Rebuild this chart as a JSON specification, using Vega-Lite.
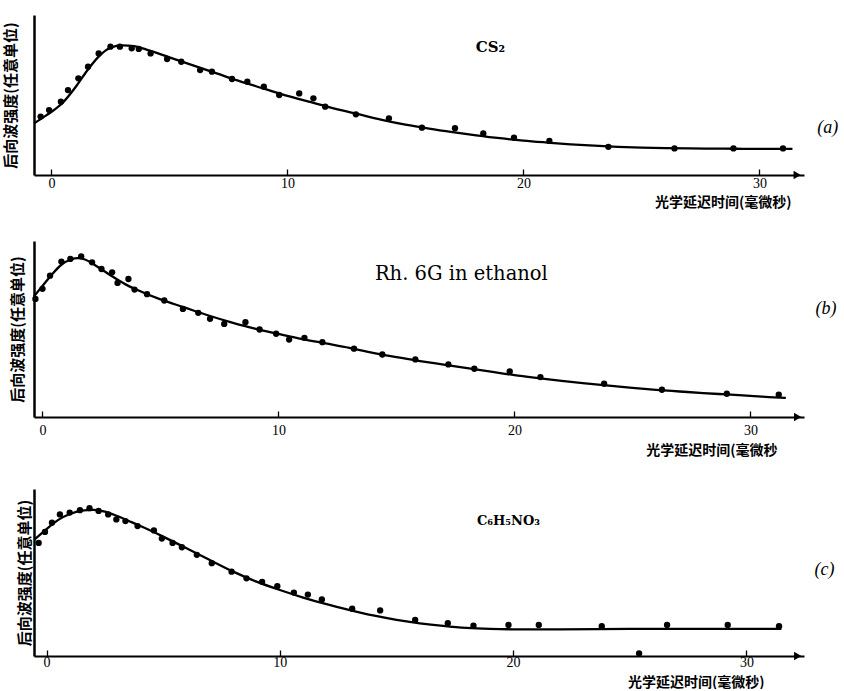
{
  "$schema": "https://vega.github.io/schema/vega-lite/v6.json",
  "background": "white",
  "padding": {"left": 3, "top": 15, "right": 2, "bottom": 0},
  "spacing": 32,
  "config": {
    "view": {"stroke": null},
    "axis": {"grid": false, "domainColor": "black", "tickColor": "black", "labelColor": "black", "titleColor": "black"}
  },
  "datasets": {
    "a_curve": [
      {"t": -0.72, "v": 32.5}, {"t": -0.3, "v": 36.5}, {"t": 0, "v": 39.5}, {"t": 0.5, "v": 45.5}, {"t": 1.0, "v": 54.5},
      {"t": 1.5, "v": 65}, {"t": 2.0, "v": 74}, {"t": 2.5, "v": 79.5}, {"t": 3.0, "v": 81}, {"t": 3.5, "v": 80.5},
      {"t": 4.0, "v": 78.5}, {"t": 5, "v": 73.5}, {"t": 6, "v": 68.5}, {"t": 7, "v": 63.5}, {"t": 8, "v": 58.5},
      {"t": 9, "v": 54}, {"t": 10, "v": 49.5}, {"t": 11, "v": 45.5}, {"t": 12, "v": 41.5}, {"t": 13, "v": 38},
      {"t": 14, "v": 34.5}, {"t": 15, "v": 31.5}, {"t": 16, "v": 29}, {"t": 17, "v": 26.8}, {"t": 18, "v": 24.8},
      {"t": 19, "v": 23}, {"t": 20, "v": 21.5}, {"t": 21, "v": 20.3}, {"t": 22, "v": 19.2}, {"t": 23, "v": 18.3},
      {"t": 24, "v": 17.6}, {"t": 25, "v": 17.1}, {"t": 26, "v": 16.8}, {"t": 27, "v": 16.6}, {"t": 28, "v": 16.5},
      {"t": 29, "v": 16.4}, {"t": 30, "v": 16.3}, {"t": 31.4, "v": 16.3}
    ],
    "a_dots": [
      {"t": -0.46, "v": 36.5}, {"t": -0.1, "v": 40.6}, {"t": 0.4, "v": 45.8}, {"t": 0.7, "v": 53.1}, {"t": 1.14, "v": 60.4},
      {"t": 1.55, "v": 67.7}, {"t": 2.0, "v": 76.0}, {"t": 2.5, "v": 80.2}, {"t": 2.9, "v": 80.2}, {"t": 3.4, "v": 79.2},
      {"t": 3.7, "v": 78.8}, {"t": 4.2, "v": 76.0}, {"t": 4.9, "v": 72.5}, {"t": 5.5, "v": 70.8}, {"t": 6.3, "v": 65.6},
      {"t": 6.8, "v": 64.6}, {"t": 7.65, "v": 60.0}, {"t": 8.3, "v": 58.3}, {"t": 9.0, "v": 55.2}, {"t": 9.65, "v": 50.0},
      {"t": 10.5, "v": 51.0}, {"t": 11.1, "v": 47.9}, {"t": 11.6, "v": 42.7}, {"t": 12.9, "v": 37.9}, {"t": 14.3, "v": 35.4},
      {"t": 15.7, "v": 29.6}, {"t": 17.1, "v": 29.2}, {"t": 18.3, "v": 26.0}, {"t": 19.6, "v": 23.3}, {"t": 21.1, "v": 21.3},
      {"t": 23.6, "v": 17.6}, {"t": 26.4, "v": 16.6}, {"t": 28.9, "v": 16.6}, {"t": 31.0, "v": 16.6}
    ],
    "b_curve": [
      {"t": -0.36, "v": 68.6}, {"t": 0, "v": 74.5}, {"t": 0.4, "v": 81}, {"t": 0.8, "v": 86.5}, {"t": 1.2, "v": 89.5},
      {"t": 1.5, "v": 90.3}, {"t": 1.8, "v": 89.5}, {"t": 2.2, "v": 86.5}, {"t": 2.6, "v": 83}, {"t": 3.0, "v": 79.5},
      {"t": 3.5, "v": 75.5}, {"t": 4, "v": 72.3}, {"t": 5, "v": 66.8}, {"t": 6, "v": 62.3}, {"t": 7, "v": 57.8},
      {"t": 8, "v": 53.8}, {"t": 9, "v": 50.2}, {"t": 10, "v": 47.2}, {"t": 11, "v": 44.3}, {"t": 12, "v": 41.8},
      {"t": 13, "v": 39.3}, {"t": 14, "v": 36.5}, {"t": 15, "v": 34}, {"t": 16, "v": 31.8}, {"t": 17, "v": 29.8},
      {"t": 18, "v": 27.8}, {"t": 19, "v": 25.8}, {"t": 20, "v": 23.8}, {"t": 21, "v": 22.1}, {"t": 22, "v": 20.5},
      {"t": 23, "v": 19.1}, {"t": 24, "v": 17.8}, {"t": 25, "v": 16.5}, {"t": 26, "v": 15.4}, {"t": 27, "v": 14.5},
      {"t": 28, "v": 13.6}, {"t": 29, "v": 12.8}, {"t": 30, "v": 12}, {"t": 31, "v": 11.2}, {"t": 31.5, "v": 10.9}
    ],
    "b_dots": [
      {"t": -0.3, "v": 67.1}, {"t": 0, "v": 72.8}, {"t": 0.32, "v": 80.3}, {"t": 0.8, "v": 88.3}, {"t": 1.18, "v": 89.8},
      {"t": 1.64, "v": 91.3}, {"t": 2.1, "v": 87.9}, {"t": 2.5, "v": 84.1}, {"t": 2.95, "v": 82.2}, {"t": 3.18, "v": 76.2},
      {"t": 3.64, "v": 78.4}, {"t": 3.9, "v": 72.4}, {"t": 4.43, "v": 69.8}, {"t": 5.16, "v": 66.2}, {"t": 5.95, "v": 61.4},
      {"t": 6.6, "v": 59.2}, {"t": 7.1, "v": 55.8}, {"t": 7.7, "v": 52.9}, {"t": 8.6, "v": 53.9}, {"t": 9.2, "v": 49.7},
      {"t": 9.9, "v": 47.3}, {"t": 10.45, "v": 44.0}, {"t": 11.1, "v": 45.0}, {"t": 11.86, "v": 42.5}, {"t": 13.2, "v": 38.8},
      {"t": 14.4, "v": 35.5}, {"t": 15.8, "v": 32.7}, {"t": 17.2, "v": 29.9}, {"t": 18.3, "v": 27.4}, {"t": 19.8, "v": 25.9},
      {"t": 21.1, "v": 22.7}, {"t": 23.8, "v": 18.9}, {"t": 26.25, "v": 15.5}, {"t": 29.0, "v": 13.2}, {"t": 31.2, "v": 12.7}
    ],
    "c_curve": [
      {"t": -0.5, "v": 70}, {"t": 0, "v": 76}, {"t": 0.5, "v": 81.5}, {"t": 1.0, "v": 85}, {"t": 1.5, "v": 87},
      {"t": 2.0, "v": 87.5}, {"t": 2.5, "v": 86.5}, {"t": 3.0, "v": 84}, {"t": 3.5, "v": 81}, {"t": 4, "v": 78},
      {"t": 5, "v": 71.5}, {"t": 6, "v": 64.5}, {"t": 7, "v": 57.5}, {"t": 8, "v": 50.5}, {"t": 9, "v": 44.5},
      {"t": 10, "v": 39.5}, {"t": 11, "v": 35}, {"t": 12, "v": 31}, {"t": 13, "v": 27.5}, {"t": 14, "v": 24.3},
      {"t": 15, "v": 21.7}, {"t": 16, "v": 19.6}, {"t": 17, "v": 18}, {"t": 18, "v": 16.8}, {"t": 19, "v": 16.2},
      {"t": 20, "v": 16}, {"t": 22, "v": 16}, {"t": 25, "v": 16.2}, {"t": 28, "v": 16.3}, {"t": 31.5, "v": 16.3}
    ],
    "c_dots": [
      {"t": -0.34, "v": 67.7}, {"t": -0.07, "v": 74.3}, {"t": 0.23, "v": 79.8}, {"t": 0.57, "v": 84.8}, {"t": 0.99, "v": 85.9},
      {"t": 1.43, "v": 87.3}, {"t": 1.84, "v": 88.5}, {"t": 2.23, "v": 86.9}, {"t": 2.64, "v": 84.8}, {"t": 2.99, "v": 81.8},
      {"t": 3.38, "v": 80.8}, {"t": 3.9, "v": 77.8}, {"t": 4.6, "v": 75.2}, {"t": 4.94, "v": 70.3}, {"t": 5.4, "v": 67.7},
      {"t": 5.8, "v": 65.1}, {"t": 6.44, "v": 60.6}, {"t": 7.08, "v": 55.6}, {"t": 7.93, "v": 50.5}, {"t": 8.57, "v": 46.5},
      {"t": 9.24, "v": 44.4}, {"t": 9.89, "v": 41.8}, {"t": 10.6, "v": 38.0}, {"t": 11.2, "v": 36.8}, {"t": 11.8, "v": 33.9},
      {"t": 13.1, "v": 28.3}, {"t": 14.3, "v": 27.3}, {"t": 15.8, "v": 21.6}, {"t": 17.2, "v": 19.6}, {"t": 18.3, "v": 18.2},
      {"t": 19.8, "v": 18.6}, {"t": 21.1, "v": 18.6}, {"t": 23.8, "v": 17.8}, {"t": 26.6, "v": 18.6}, {"t": 29.2, "v": 18.6},
      {"t": 31.4, "v": 17.8}, {"t": 25.4, "v": 1.5}
    ]
  },
  "vconcat": [
    {
      "width": 770,
      "height": 160,
      "layer": [
        {"data": {"name": "a_curve"}, "mark": {"type": "line", "interpolate": "monotone", "color": "black", "strokeWidth": 2.3},
          "encoding": {
            "x": {"field": "t", "type": "quantitative", "title": "光学延迟时间(毫微秒)", "scale": {"domain": [-0.74, 31.89], "nice": false, "zero": false},
              "axis": {"values": [0, 10, 20, 30], "domainWidth": 2, "tickSize": -6, "tickWidth": 1.3,
                "labelFont": "Liberation Serif", "labelFontSize": 14, "labelPadding": 7, "labelFlush": false,
                "titleFont": "Noto Sans CJK SC", "titleFontSize": 14, "titleFontWeight": "bold",
                "titleX": 757, "titleY": 27, "titleAlign": "right", "titleBaseline": "middle", "titleAnchor": null}},
            "y": {"field": "v", "type": "quantitative", "title": "后向波强度(任意单位)", "scale": {"domain": [0, 100], "nice": false, "zero": false},
              "axis": {"labels": false, "ticks": false, "domainWidth": 2.5,
                "titleFont": "Noto Sans CJK SC", "titleFontSize": 15, "titleFontWeight": "bold", "titlePadding": 16}}
          }},
        {"data": {"name": "a_dots"}, "mark": {"type": "point", "filled": true, "color": "black", "size": 40, "opacity": 1},
          "encoding": {
            "x": {"field": "t", "type": "quantitative", "title": "光学延迟时间(毫微秒)"},
            "y": {"field": "v", "type": "quantitative", "title": "后向波强度(任意单位)"}
          }},
        {"data": {"values": [{}]}, "mark": {"type": "point", "shape": "triangle-right", "filled": true, "color": "black", "size": 70, "opacity": 1},
          "encoding": {"x": {"datum": 31.6}, "y": {"datum": 0}}},
        {"data": {"values": [{}]}, "mark": {"type": "text", "text": "CS₂", "font": "DejaVu Serif", "fontSize": 15, "fontWeight": "bold", "color": "black"},
          "encoding": {"x": {"datum": 18.6}, "y": {"datum": 80}}},
        {"data": {"values": [{}]}, "mark": {"type": "text", "text": "(a)", "font": "Liberation Serif", "fontStyle": "italic", "fontSize": 18, "color": "black"},
          "encoding": {"x": {"datum": 32.9}, "y": {"datum": 29.4}}}
      ]
    },
    {
      "width": 770,
      "height": 176,
      "layer": [
        {"data": {"name": "b_curve"}, "mark": {"type": "line", "interpolate": "monotone", "color": "black", "strokeWidth": 2.3},
          "encoding": {
            "x": {"field": "t", "type": "quantitative", "title": "光学延迟时间(毫微秒", "scale": {"domain": [-0.36, 32.27], "nice": false, "zero": false},
              "axis": {"values": [0, 10, 20, 30], "domainWidth": 2, "tickSize": -6, "tickWidth": 1.3,
                "labelFont": "Liberation Serif", "labelFontSize": 14, "labelPadding": 12, "labelFlush": false,
                "titleFont": "Noto Sans CJK SC", "titleFontSize": 14, "titleFontWeight": "bold",
                "titleX": 743, "titleY": 33, "titleAlign": "right", "titleBaseline": "middle", "titleAnchor": null}},
            "y": {"field": "v", "type": "quantitative", "title": "后向波强度(任意单位)", "scale": {"domain": [0, 100], "nice": false, "zero": false},
              "axis": {"labels": false, "ticks": false, "domainWidth": 2.5,
                "titleFont": "Noto Sans CJK SC", "titleFontSize": 15, "titleFontWeight": "bold", "titlePadding": 9}}
          }},
        {"data": {"name": "b_dots"}, "mark": {"type": "point", "filled": true, "color": "black", "size": 40, "opacity": 1},
          "encoding": {
            "x": {"field": "t", "type": "quantitative", "title": "光学延迟时间(毫微秒"},
            "y": {"field": "v", "type": "quantitative", "title": "后向波强度(任意单位)"}
          }},
        {"data": {"values": [{}]}, "mark": {"type": "point", "shape": "triangle-right", "filled": true, "color": "black", "size": 70, "opacity": 1},
          "encoding": {"x": {"datum": 32.0}, "y": {"datum": 0}}},
        {"data": {"values": [{}]}, "mark": {"type": "text", "text": "Rh. 6G in ethanol", "font": "DejaVu Serif", "fontSize": 19.5, "color": "black"},
          "encoding": {"x": {"datum": 17.75}, "y": {"datum": 81}}},
        {"data": {"values": [{}]}, "mark": {"type": "text", "text": "(b)", "font": "Liberation Serif", "fontStyle": "italic", "fontSize": 18, "color": "black"},
          "encoding": {"x": {"datum": 33.2}, "y": {"datum": 61.4}}}
      ]
    },
    {
      "width": 770,
      "height": 167,
      "layer": [
        {"data": {"name": "c_curve"}, "mark": {"type": "line", "interpolate": "monotone", "color": "black", "strokeWidth": 2.3},
          "encoding": {
            "x": {"field": "t", "type": "quantitative", "title": "光学延迟时间(毫微秒)", "scale": {"domain": [-0.54, 32.47], "nice": false, "zero": false},
              "axis": {"values": [0, 10, 20, 30], "domainWidth": 2, "tickSize": -6, "tickWidth": 1.3,
                "labelFont": "Liberation Serif", "labelFontSize": 14, "labelPadding": 5, "labelFlush": false,
                "titleFont": "Noto Sans CJK SC", "titleFontSize": 14, "titleFontWeight": "bold",
                "titleX": 730, "titleY": 26, "titleAlign": "right", "titleBaseline": "middle", "titleAnchor": null}},
            "y": {"field": "v", "type": "quantitative", "title": "后向波强度(任意单位)", "scale": {"domain": [0, 100], "nice": false, "zero": false},
              "axis": {"labels": false, "ticks": false, "domainWidth": 2.5,
                "titleFont": "Noto Sans CJK SC", "titleFontSize": 15, "titleFontWeight": "bold", "titlePadding": 2}}
          }},
        {"data": {"name": "c_dots"}, "mark": {"type": "point", "filled": true, "color": "black", "size": 40, "opacity": 1},
          "encoding": {
            "x": {"field": "t", "type": "quantitative", "title": "光学延迟时间(毫微秒)"},
            "y": {"field": "v", "type": "quantitative", "title": "后向波强度(任意单位)"}
          }},
        {"data": {"values": [{}]}, "mark": {"type": "point", "shape": "triangle-right", "filled": true, "color": "black", "size": 70, "opacity": 1},
          "encoding": {"x": {"datum": 32.2}, "y": {"datum": 0}}},
        {"data": {"values": [{}]}, "mark": {"type": "text", "text": "C₆H₅NO₃", "font": "DejaVu Serif", "fontSize": 13, "fontWeight": "bold", "color": "black"},
          "encoding": {"x": {"datum": 19.8}, "y": {"datum": 80.6}}},
        {"data": {"values": [{}]}, "mark": {"type": "text", "text": "(c)", "font": "Liberation Serif", "fontStyle": "italic", "fontSize": 18, "color": "black"},
          "encoding": {"x": {"datum": 33.35}, "y": {"datum": 51.5}}}
      ]
    }
  ]
}
